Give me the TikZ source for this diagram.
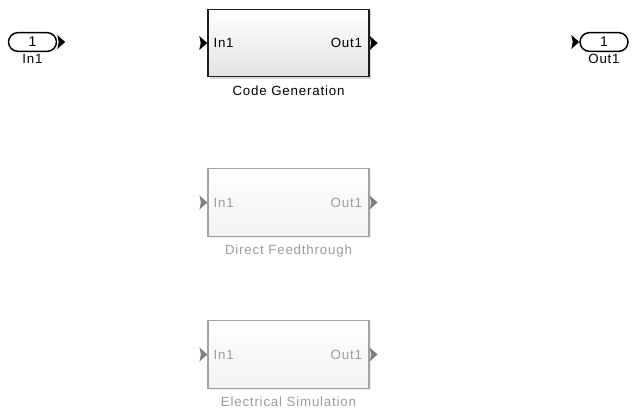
\documentclass[tikz,border=0pt]{standalone}
\usepackage{fontspec}
\setmainfont{Liberation Sans}
\newfontfamily\slfont[LetterSpace=6]{Liberation Sans}
\usetikzlibrary{positioning, shadows}
\definecolor{slline}{HTML}{1E1E1E}
\definecolor{sldim}{HTML}{A3A3A3}
\definecolor{sldimtext}{HTML}{9C9C9C}

\tikzset{
  lbl/.style={font=\slfont\fontsize{10}{11}\selectfont, inner sep=1pt},
  blkbase/.style={minimum width=120.75pt, minimum height=50.5pt, inner sep=0pt, top color=white},
  blk/.style={blkbase, draw=slline, line width=1.1pt, bottom color=black!11,
    drop shadow={shadow xshift=1.4pt, shadow yshift=-1.4pt, fill=black!32}},
  blkdim/.style={blkbase, draw=sldim, line width=0.9pt, bottom color=black!5,
    drop shadow={shadow xshift=1.3pt, shadow yshift=-1.3pt, fill=black!12}},
  port/.style={draw=black, line width=1.1pt, rounded corners=7pt, fill=white,
    minimum width=36pt, minimum height=14pt, inner sep=0pt,
    font=\slfont\fontsize{10.5}{11}\selectfont},
}

% filled port arrow, tip at #1
\newcommand\portarrow[2]{%
  \fill[#2, shift={#1}] (-8,-7) -- (0,0) -- (-8,7) -- (-6.5,0) -- cycle;}

\begin{document}
\begin{tikzpicture}[x=0.75pt, y=-0.75pt]
  \useasboundingbox (0,0) rectangle (632,409);

  % root inport / outport
  \node[port] (in1) at (32.5,42) {1};
  \node[lbl, below=0.5pt of in1] (in1lbl) {In1};
  \portarrow{([xshift=6pt]in1.east)}{black}

  \node[port] (out1) at (604,42) {1};
  \node[lbl, below=0.5pt of out1] (out1lbl) {Out1};
  \portarrow{(out1.west)}{black}

  % active variant
  \node[blk] (cg) at (288.5,43) {};
  \node[lbl, anchor=west] (cgin) at ([xshift=3.5pt]cg.west) {In1};
  \node[lbl, anchor=east] (cgout) at ([xshift=-4.5pt]cg.east) {Out1};
  \node[lbl, below=5pt of cg] (cglbl) {Code Generation};
  \portarrow{(cg.west)}{black}
  \portarrow{([xshift=6pt]cg.east)}{black}

  % inactive variants
  \node[blkdim] (df) at (288.5,202.5) {};
  \node[lbl, text=sldimtext, anchor=west] (dfin) at ([xshift=3.5pt]df.west) {In1};
  \node[lbl, text=sldimtext, anchor=east] (dfout) at ([xshift=-4.5pt]df.east) {Out1};
  \node[lbl, text=sldimtext, below=5pt of df] (dflbl) {Direct Feedthrough};
  \portarrow{(df.west)}{gray}
  \portarrow{([xshift=6pt]df.east)}{gray}

  \node[blkdim] (es) at (288.5,354.5) {};
  \node[lbl, text=sldimtext, anchor=west] (esin) at ([xshift=3.5pt]es.west) {In1};
  \node[lbl, text=sldimtext, anchor=east] (esout) at ([xshift=-4.5pt]es.east) {Out1};
  \node[lbl, text=sldimtext, below=5pt of es] (eslbl) {Electrical Simulation};
  \portarrow{(es.west)}{gray}
  \portarrow{([xshift=6pt]es.east)}{gray}
\end{tikzpicture}
\end{document}
